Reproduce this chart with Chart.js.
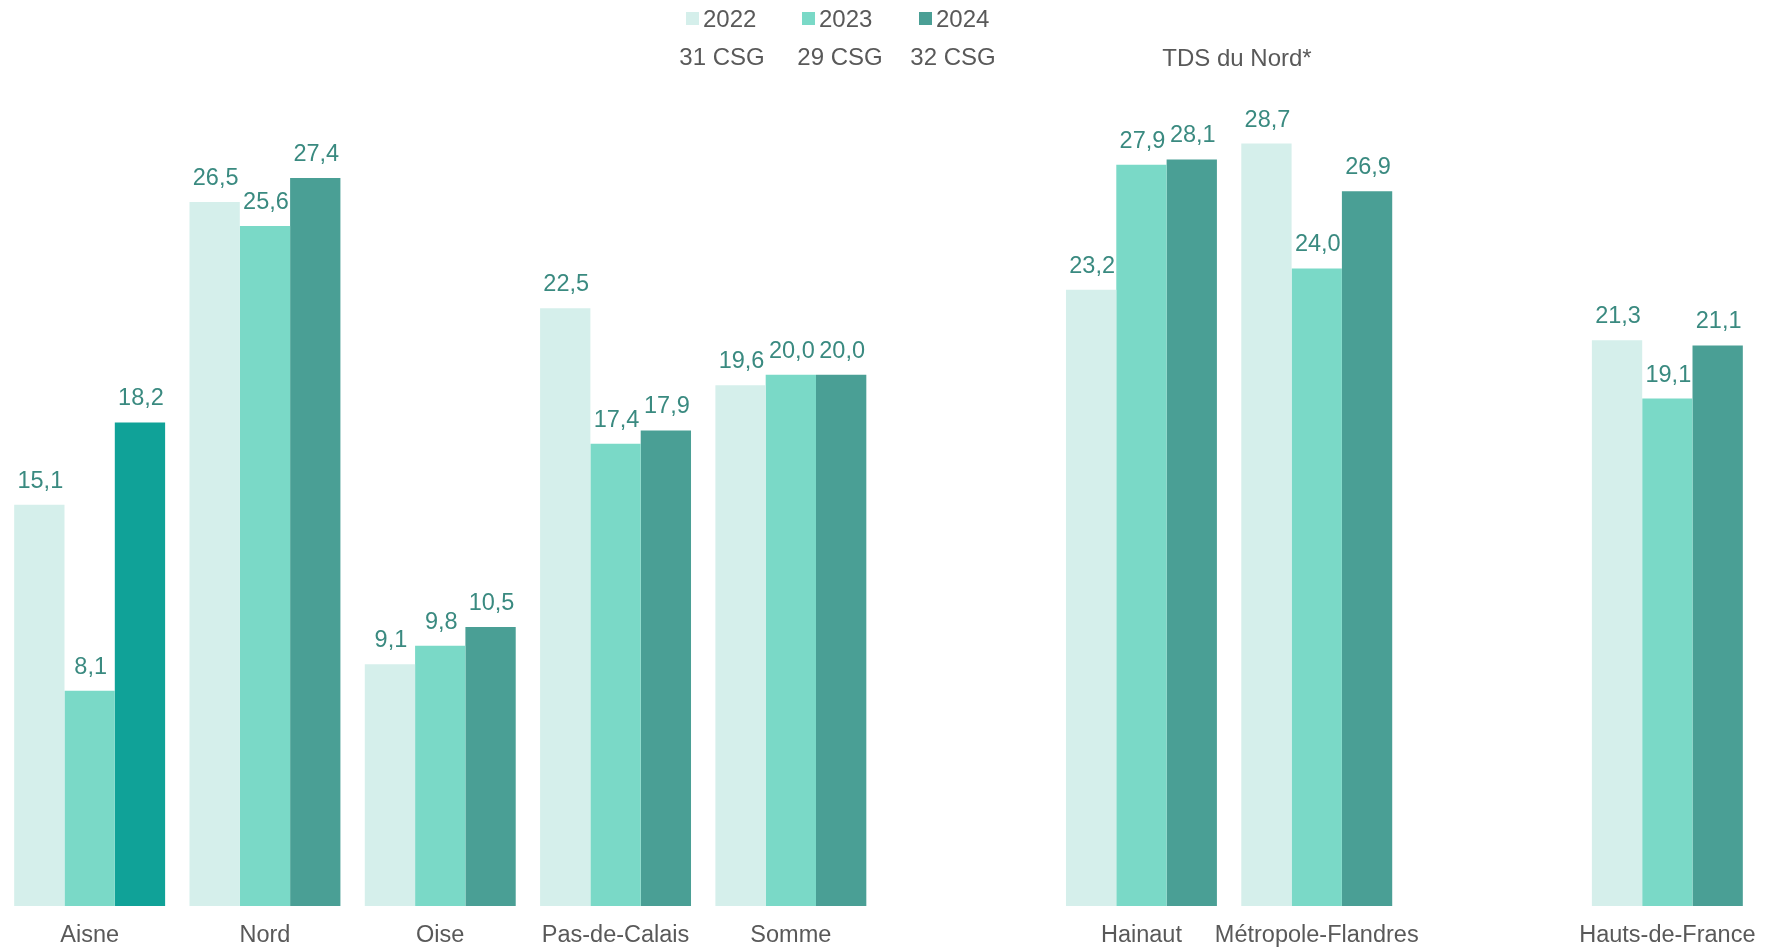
<!DOCTYPE html>
<html lang="fr">
<head>
<meta charset="utf-8">
<script src="https://cdn.jsdelivr.net/npm/chart.js@4/dist/chart.umd.min.js"></script>
<style>
  html, body { margin: 0; padding: 0; background: #ffffff; }
  #wrap { width: 1769px; height: 949px; }
</style>
</head>
<body>
<div id="wrap"><canvas id="c" width="1769" height="949"></canvas></div>
<script>
// Territoires (les libellés vides séparent les blocs de l'axe)
const categories = ['Aisne', 'Nord', 'Oise', 'Pas-de-Calais', 'Somme', '', 'Hainaut', 'Métropole-Flandres', '', 'Hauts-de-France'];
const years = ['2022', '2023', '2024'];
const values2022 = [15.1, 26.5, 9.1, 22.5, 19.6, null, 23.2, 28.7, null, 21.3];
const values2023 = [8.1, 25.6, 9.8, 17.4, 20.0, null, 27.9, 24.0, null, 19.1];
const values2024 = [18.2, 27.4, 10.5, 17.9, 20.0, null, 28.1, 26.9, null, 21.1];
const csgCounts = ['31 CSG', '29 CSG', '32 CSG'];
const groupTitle = 'TDS du Nord*';

const FONT = '"Liberation Sans", Arial, sans-serif';
const TEXT_GREY = '#595959';
const LABEL_TEAL = '#3a8a80';
const colors = ['#d5efeb', '#7ad9c7', '#4a9f95'];
const aisne2024 = '#10a298';

// Étiquettes de valeur au-dessus des barres (virgule décimale)
const valueLabels = {
  id: 'valueLabels',
  afterDatasetsDraw(chart) {
    const ctx = chart.ctx;
    ctx.save();
    ctx.font = '23.5px ' + FONT;
    ctx.fillStyle = LABEL_TEAL;
    ctx.textAlign = 'center';
    ctx.textBaseline = 'alphabetic';
    chart.data.datasets.forEach((ds, di) => {
      const meta = chart.getDatasetMeta(di);
      meta.data.forEach((bar, i) => {
        const v = ds.data[i];
        if (v === null || v === undefined) return;
        const txt = v.toFixed(1).replace('.', ',');
        ctx.fillText(txt, bar.x + 1, bar.y - 17);
      });
    });
    ctx.restore();
  }
};

// Légende et annotations d'en-tête
const header = {
  id: 'header',
  afterDraw(chart) {
    const ctx = chart.ctx;
    ctx.save();
    ctx.font = '24px ' + FONT;
    ctx.fillStyle = TEXT_GREY;
    ctx.textBaseline = 'alphabetic';
    const boxX = [686, 802, 919];
    chart.data.datasets.forEach((ds, i) => {
      ctx.fillStyle = colors[i];
      ctx.fillRect(boxX[i], 12, 13, 13);
      ctx.fillStyle = TEXT_GREY;
      ctx.textAlign = 'left';
      ctx.fillText(ds.label, boxX[i] + 17, 27);
    });
    const csgX = [722, 840, 953];
    ctx.textAlign = 'center';
    csgCounts.forEach((t, i) => ctx.fillText(t, csgX[i], 65));
    ctx.fillText(groupTitle, 1237, 66);
    ctx.restore();
  }
};

const series = [values2022, values2023, values2024];
const datasets = years.map((y, i) => ({
  label: y,
  data: series[i],
  backgroundColor: i === 2 ? series[i].map((_, k) => (k === 0 ? aisne2024 : colors[2])) : colors[i],
  borderWidth: 0,
  barPercentage: 1.0,
  categoryPercentage: 0.861
}));

new Chart(document.getElementById('c'), {
  type: 'bar',
  data: { labels: categories, datasets },
  options: {
    responsive: false,
    animation: false,
    devicePixelRatio: 1,
    layout: { padding: { top: 109, left: 2, right: 14, bottom: 0 } },
    plugins: {
      legend: { display: false },
      tooltip: { enabled: false },
      title: { display: false }
    },
    scales: {
      x: {
        grid: { display: false },
        border: { display: false },
        ticks: {
          autoSkip: false,
          maxRotation: 0,
          minRotation: 0,
          padding: 7,
          color: TEXT_GREY,
          font: { family: FONT, size: 23.5 }
        },
        afterFit(scale) { scale.height = 43; }
      },
      y: {
        display: false,
        min: 0,
        max: 30
      }
    }
  },
  plugins: [valueLabels, header]
});
</script>
</body>
</html>
